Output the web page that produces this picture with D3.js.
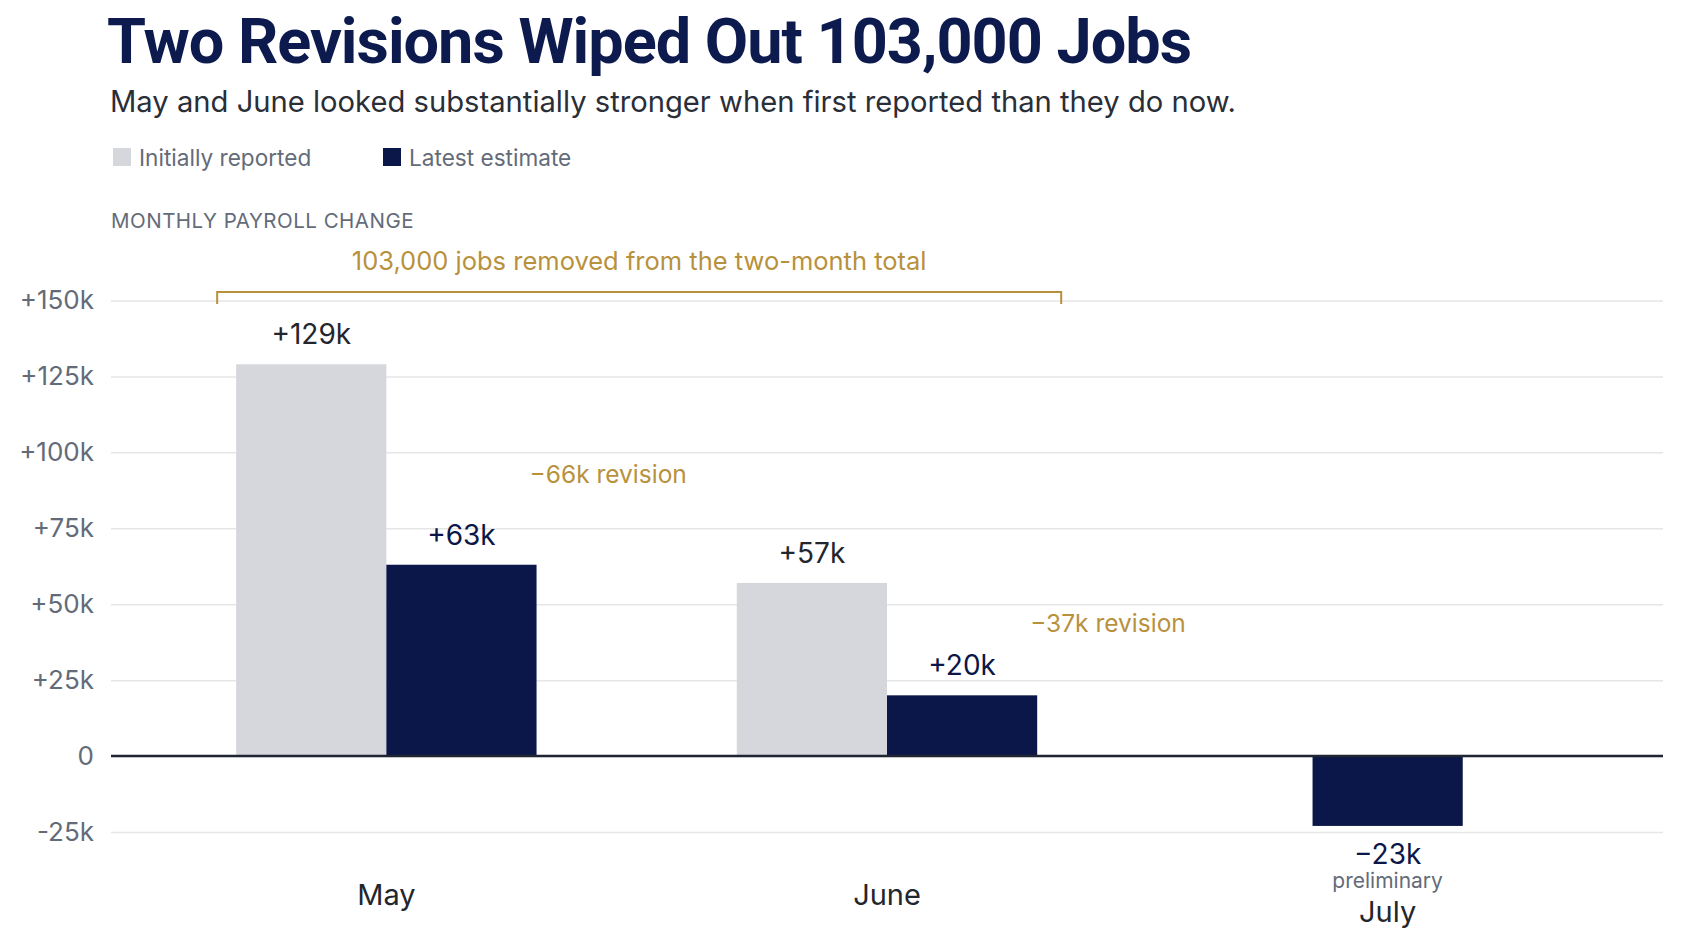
<!DOCTYPE html>
<html>
<head>
<meta charset="utf-8">
<script src="https://cdn.jsdelivr.net/npm/d3@7"></script>
<style>
  html, body { margin: 0; padding: 0; background: #fff; }
  svg { display: block; font-family: Inter, "Noto Sans", sans-serif; }
</style>
</head>
<body>
<div id="chart"></div>
<script>
// Monthly payroll change, thousands of jobs
const months = ["May", "June", "July"];
const initialReported = [129, 57, null];
const latestEstimate = [63, 20, -23];
const revisions = [-66, -37];
const yTicks = [-25, 0, 25, 50, 75, 100, 125, 150];

const width = 1683;
const height = 935;

const navy = "#0b1748";
const lightGray = "#d6d7dc";
const gold = "#b8913d";
const slate = "#646b78";

const svg = d3.select("#chart")
    .append("svg")
    .attr("width", width)
    .attr("height", height);

// Title block
svg.append("text")
    .attr("x", 107)
    .attr("y", 63)
    .style("font-family", "Roboto, sans-serif")
    .style("font-weight", 700)
    .style("font-size", "63px")
    .style("letter-spacing", "-1px")
    .style("fill", "#0c1a4d")
    .text("Two Revisions Wiped Out 103,000 Jobs");

svg.append("text")
    .attr("x", 110)
    .attr("y", 112)
    .style("font-size", "29.2px")
    .style("fill", "#2a2e37")
    .text("May and June looked substantially stronger when first reported than they do now.");

// Legend
const legendItems = [
    { label: "Initially reported", color: lightGray, x: 113 },
    { label: "Latest estimate", color: navy, x: 383 }
];
const legend = svg.selectAll("g.legend-item")
    .data(legendItems)
    .enter()
    .append("g")
    .attr("class", "legend-item")
    .attr("transform", d => `translate(${d.x},148)`);

legend.append("rect")
    .attr("width", 18)
    .attr("height", 18)
    .style("fill", d => d.color);

legend.append("text")
    .attr("x", 26)
    .attr("y", 18)
    .style("font-size", "22.6px")
    .style("fill", slate)
    .text(d => d.label);

svg.append("text")
    .attr("x", 111)
    .attr("y", 228)
    .style("font-size", "20.5px")
    .style("letter-spacing", "0.5px")
    .style("fill", slate)
    .text("MONTHLY PAYROLL CHANGE");

// Scales
const plotLeft = 111;
const plotRight = 1663;

const x0 = d3.scaleBand()
    .domain(months)
    .range([plotLeft, plotRight])
    .paddingInner(0.4)
    .paddingOuter(0.25);

const x1 = d3.scaleBand()
    .domain(["initial", "latest"])
    .range([0, x0.bandwidth()]);

const y = d3.scaleLinear()
    .domain([d3.min(yTicks), d3.max(yTicks)])
    .range([832, 300.5]);

// Y axis with gridlines
const fmtTick = v => v === 0 ? "0" : (v > 0 ? "+" + v + "k" : "-" + Math.abs(v) + "k");

const yAxis = svg.append("g")
    .attr("transform", `translate(${plotLeft},0)`)
    .call(d3.axisLeft(y)
        .tickValues(yTicks)
        .tickSize(-(plotRight - plotLeft))
        .tickPadding(17)
        .tickFormat(fmtTick));

yAxis.select(".domain").remove();
yAxis.selectAll(".tick line")
    .style("stroke", "#e6e6e6")
    .style("stroke-width", 1.5);
yAxis.selectAll(".tick text")
    .style("font-family", "Inter, sans-serif")
    .style("font-size", "26px")
    .style("fill", slate);

// Bars
const barData = [];
months.forEach((m, i) => {
    const series = [];
    if (initialReported[i] !== null) series.push({ key: "initial", value: initialReported[i] });
    if (latestEstimate[i] !== null) series.push({ key: "latest", value: latestEstimate[i] });
    series.forEach(s => {
        const x = series.length === 1
            ? x0(m) + (x0.bandwidth() - x1.bandwidth()) / 2
            : x0(m) + x1(s.key);
        barData.push({ month: m, key: s.key, value: s.value, x: x });
    });
});

svg.selectAll("rect.bar")
    .data(barData)
    .enter()
    .append("rect")
    .attr("class", "bar")
    .attr("x", d => d.x)
    .attr("width", x1.bandwidth())
    .attr("y", d => y(Math.max(0, d.value)))
    .attr("height", d => Math.abs(y(d.value) - y(0)))
    .style("fill", d => d.key === "initial" ? lightGray : navy);

// Zero baseline on top of the bars
svg.append("line")
    .attr("x1", plotLeft)
    .attr("x2", plotRight)
    .attr("y1", y(0))
    .attr("y2", y(0))
    .style("stroke", "#1f2533")
    .style("stroke-width", 2.5);

// Value labels
const fmtValue = v => (v >= 0 ? "+" : "\u2212") + Math.abs(v) + "k";

svg.selectAll("text.value")
    .data(barData)
    .enter()
    .append("text")
    .attr("class", "value")
    .attr("x", d => d.x + x1.bandwidth() / 2)
    .attr("y", d => d.value >= 0 ? y(d.value) - 20 : y(d.value) + 38)
    .attr("text-anchor", "middle")
    .style("font-size", "28px")
    .style("fill", d => d.key === "initial" ? "#23262d" : navy)
    .text(d => fmtValue(d.value));

// Month labels
const xAxis = svg.append("g")
    .attr("transform", "translate(0,905)")
    .call(d3.axisBottom(x0).tickSize(0).tickPadding(0));

xAxis.select(".domain").remove();
xAxis.selectAll(".tick text")
    .attr("y", d => latestEstimate[months.indexOf(d)] < 0 ? 17 : 0)
    .attr("dy", 0)
    .style("font-family", "Inter, sans-serif")
    .style("font-size", "29px")
    .style("fill", "#23262d");

// July is preliminary
svg.append("text")
    .attr("x", x0("July") + x0.bandwidth() / 2)
    .attr("y", 888)
    .attr("text-anchor", "middle")
    .style("font-size", "21px")
    .style("fill", slate)
    .text("preliminary");

// Revision annotations
const revisionAt = [90, 41];
months.slice(0, 2).forEach((m, i) => {
    svg.append("text")
        .attr("x", x0(m) + x0.bandwidth() - 7)
        .attr("y", y(revisionAt[i]))
        .style("font-size", "24.5px")
        .style("fill", gold)
        .text(fmtValue(revisions[i]) + " revision");
});

// Bracket over May and June
const bx1 = x0("May") - 19;
const bx2 = x0("June") + x0.bandwidth() + 24;
const by = y(150) - 8.5;

svg.append("path")
    .attr("d", `M${bx1},${by + 12}V${by}H${bx2}V${by + 12}`)
    .style("fill", "none")
    .style("stroke", gold)
    .style("stroke-width", 2);

svg.append("text")
    .attr("x", (bx1 + bx2) / 2)
    .attr("y", by - 22)
    .attr("text-anchor", "middle")
    .style("font-size", "25.5px")
    .style("fill", gold)
    .text("103,000 jobs removed from the two-month total");
</script>
</body>
</html>
